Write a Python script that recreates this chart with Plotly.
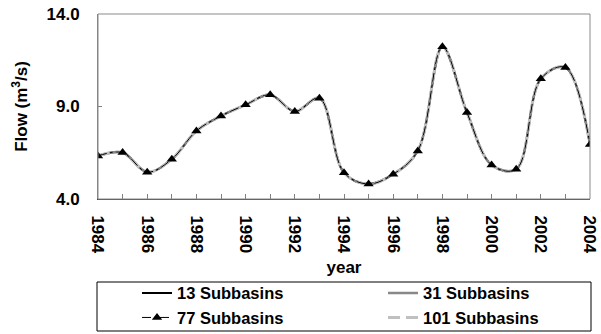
import plotly.graph_objects as go

years = list(range(1984, 2005))
flow_13 = [6.33, 6.51, 5.45, 6.15, 7.68, 8.49, 9.09, 9.63, 8.73, 9.45, 5.42,
           4.81, 5.34, 6.60, 12.23, 8.67, 5.84, 5.61, 10.50, 11.11, 6.94]
flow_31 = [6.33, 6.51, 5.45, 6.15, 7.68, 8.49, 9.09, 9.63, 8.73, 9.45, 5.42,
           4.81, 5.34, 6.60, 12.23, 8.67, 5.84, 5.61, 10.50, 11.11, 6.94]
flow_77 = [6.33, 6.51, 5.45, 6.15, 7.68, 8.49, 9.09, 9.63, 8.73, 9.45, 5.42,
           4.81, 5.34, 6.60, 12.23, 8.67, 5.84, 5.61, 10.50, 11.11, 6.94]
flow_101 = [6.33, 6.51, 5.45, 6.15, 7.68, 8.49, 9.09, 9.63, 8.73, 9.45, 5.42,
            4.81, 5.34, 6.60, 12.23, 8.67, 5.84, 5.61, 10.50, 11.11, 6.94]
y_ticks = [4.0, 9.0, 14.0]
x_ticks = list(range(1984, 2005, 2))

FONT = "Liberation Sans, Arial, sans-serif"

fig = go.Figure()
fig.add_trace(go.Scatter(x=years, y=flow_13, name="13 Subbasins", mode="lines",
                         line=dict(color="#000000", width=2, shape="spline"),
                         legendrank=1))
fig.add_trace(go.Scatter(x=years, y=flow_31, name="31 Subbasins", mode="lines",
                         line=dict(color="#888888", width=2.5, shape="spline"),
                         legendrank=2))
fig.add_trace(go.Scatter(x=years, y=flow_101, name="101 Subbasins", mode="lines",
                         line=dict(color="#c0c0c0", width=3, shape="spline",
                                   dash="12px,6px"),
                         legendrank=4))
fig.add_trace(go.Scatter(x=years, y=flow_77, name="77 Subbasins", mode="lines+markers",
                         line=dict(color="#000000", width=1, shape="spline",
                                   dash="dashdot"),
                         marker=dict(symbol="triangle-up", size=9, color="#000000"),
                         legendrank=3))

fig.update_layout(
    width=601, height=334,
    margin=dict(l=98, r=11, t=14, b=135, autoexpand=False),
    paper_bgcolor="white", plot_bgcolor="white",
    font=dict(family=FONT, size=17, color="#000000", weight="bold"),
    showlegend=True,
    legend=dict(orientation="h", x=0.0793, xanchor="left", y=-0.415, yanchor="top",
                entrywidth=201, borderwidth=0, bgcolor="rgba(0,0,0,0)",
                font=dict(family=FONT, size=16.5, weight="bold"),
                traceorder="normal"),
    shapes=[
        dict(type="rect", xref="paper", yref="paper", x0=0, x1=1, y0=0, y1=1,
             line=dict(color="#8a8a8a", width=1)),
        dict(type="rect", xref="paper", yref="paper",
             x0=(97 - 98) / 492, x1=(591 - 98) / 492,
             y0=(199 - 331) / 185, y1=(199 - 282) / 185,
             line=dict(color="#000000", width=1)),
    ],
)
fig.update_xaxes(
    range=[1984, 2004], tickvals=x_ticks, ticktext=[str(v) for v in x_ticks],
    tickangle=90, ticks="inside", ticklen=5, tickcolor="#808080",
    minor=dict(dtick=1, tick0=1984, ticks="inside", ticklen=5, tickcolor="#808080"),
    showline=True, linecolor="#404040", linewidth=1, showgrid=False, zeroline=False,
    automargin=False, ticklabelstandoff=12,
    tickfont=dict(family=FONT, size=17, weight="bold"),
    title=dict(text="year", standoff=8, font=dict(family=FONT, size=17, weight="bold")),
)
fig.update_yaxes(
    range=[4, 14], tickvals=y_ticks, ticktext=["%.1f" % v for v in y_ticks],
    ticks="inside", ticklen=4, tickcolor="#808080",
    showline=True, linecolor="#808080", linewidth=1, showgrid=False, zeroline=False,
    automargin=False, ticklabelstandoff=14,
    tickfont=dict(family=FONT, size=17, weight="bold"),
    title=dict(text="Flow (m<sup>3</sup>/s)", standoff=14,
               font=dict(family=FONT, size=17, weight="bold")),
)

fig.write_html("out.html")
